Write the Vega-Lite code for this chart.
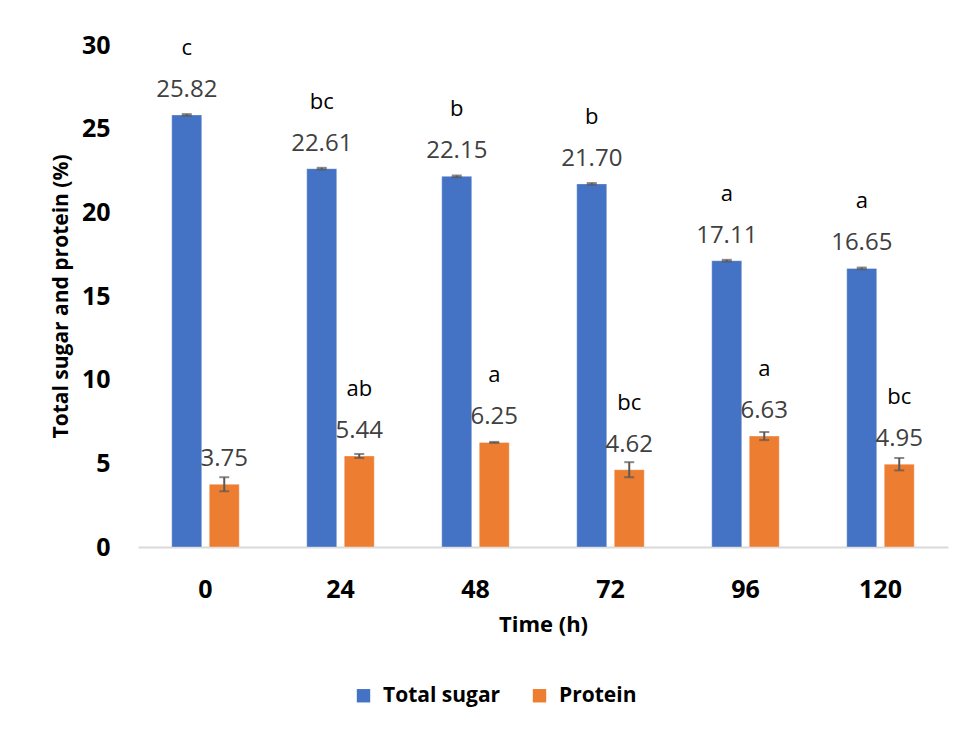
{
  "$schema": "https://vega.github.io/schema/vega-lite/v6.json",
  "autosize": "none",
  "width": 810,
  "height": 502,
  "padding": {"left": 138, "top": 45, "right": 15, "bottom": 182},
  "background": "white",
  "config": {
    "view": {"stroke": null},
    "font": "Open Sans"
  },
  "data": {
    "values": [
      {"time": 0, "series": "Total sugar", "value": 25.82, "err": 0.05, "letter": "c"},
      {"time": 0, "series": "Protein", "value": 3.75, "err": 0.42, "letter": ""},
      {"time": 24, "series": "Total sugar", "value": 22.61, "err": 0.05, "letter": "bc"},
      {"time": 24, "series": "Protein", "value": 5.44, "err": 0.12, "letter": "ab"},
      {"time": 48, "series": "Total sugar", "value": 22.15, "err": 0.05, "letter": "b"},
      {"time": 48, "series": "Protein", "value": 6.25, "err": 0.03, "letter": "a"},
      {"time": 72, "series": "Total sugar", "value": 21.70, "err": 0.05, "letter": "b"},
      {"time": 72, "series": "Protein", "value": 4.62, "err": 0.45, "letter": "bc"},
      {"time": 96, "series": "Total sugar", "value": 17.11, "err": 0.05, "letter": "a"},
      {"time": 96, "series": "Protein", "value": 6.63, "err": 0.24, "letter": "a"},
      {"time": 120, "series": "Total sugar", "value": 16.65, "err": 0.05, "letter": "a"},
      {"time": 120, "series": "Protein", "value": 4.95, "err": 0.37, "letter": "bc"}
    ]
  },
  "encoding": {
    "x": {
      "field": "time", "type": "ordinal",
      "scale": {"paddingInner": 0.5, "paddingOuter": 0.25},
      "axis": {
        "title": "Time (h)", "labelAngle": 0, "ticks": false,
        "domainColor": "#D9D9D9", "domainWidth": 2,
        "labelFont": "Open Sans", "labelFontSize": 25, "labelFontWeight": "bold", "labelColor": "#000000",
        "labelPadding": 30,
        "titleFont": "Open Sans", "titleFontSize": 22, "titleFontWeight": "bold", "titleColor": "#000000",
        "titlePadding": 12
      }
    },
    "xOffset": {
      "field": "series", "type": "nominal",
      "sort": ["Total sugar", "Protein"],
      "scale": {"paddingInner": 0.2, "paddingOuter": 0}
    },
    "y": {
      "field": "value", "type": "quantitative",
      "scale": {"domain": [0, 30], "nice": false},
      "axis": {
        "title": "Total sugar and protein (%)",
        "values": [0, 5, 10, 15, 20, 25, 30],
        "grid": false, "domain": false, "ticks": false,
        "labelFont": "Open Sans", "labelFontSize": 25, "labelFontWeight": "bold", "labelColor": "#000000",
        "labelPadding": 28,
        "titleFont": "Open Sans", "titleFontSize": 21, "titleFontWeight": "bold", "titleColor": "#000000",
        "titlePadding": 10
      }
    }
  },
  "layer": [
    {
      "mark": {"type": "bar", "stroke": "white", "strokeOpacity": 0.35, "strokeWidth": 1},
      "encoding": {
        "color": {
          "field": "series", "type": "nominal",
          "scale": {"domain": ["Total sugar", "Protein"], "range": ["#4472C4", "#ED7D31"]},
          "legend": {
            "title": null, "orient": "none", "legendX": 215, "legendY": 640,
            "direction": "horizontal", "symbolType": "square", "symbolSize": 180,
            "symbolStrokeWidth": 0,
            "labelFont": "Open Sans", "labelFontSize": 21, "labelFontWeight": "bold", "labelColor": "#000000",
            "labelOffset": 9, "columnPadding": 28
          }
        }
      }
    },
    {
      "mark": {"type": "errorbar", "ticks": {"size": 10, "thickness": 2}, "color": "#595959", "thickness": 2},
      "encoding": {
        "yError": {"field": "err"}
      }
    },
    {
      "mark": {"type": "text", "baseline": "middle", "dy": -25, "fontSize": 24, "color": "#404040", "font": "Open Sans"},
      "encoding": {
        "text": {"field": "value", "type": "quantitative", "format": ".2f"}
      }
    },
    {
      "mark": {"type": "text", "baseline": "middle", "dy": -67, "fontSize": 22, "color": "#000000", "font": "Open Sans"},
      "encoding": {
        "text": {"field": "letter", "type": "nominal"}
      }
    }
  ]
}
